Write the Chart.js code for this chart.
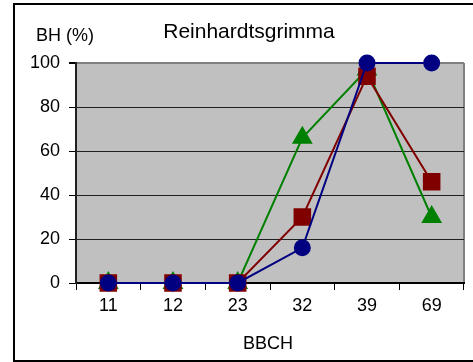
<!DOCTYPE html>
<html>
<head>
<meta charset="utf-8">
<script src="https://cdn.jsdelivr.net/npm/chart.js@4/dist/chart.umd.min.js"></script>
<style>
  body { margin: 0; background: #fff; }
  #wrap { position: relative; width: 473px; height: 362px; overflow: hidden; }
  #frame {
    position: absolute; left: 13px; top: 3px; width: 480px; height: 355px;
    border-left: 2px solid #000; border-top: 2px solid #000; border-bottom: 2px solid #000;
  }
  canvas { position: absolute; left: 0; top: 0; }
</style>
</head>
<body>
<div id="wrap">
  <div id="frame"></div>
  <canvas id="chart" width="473" height="362"></canvas>
</div>
<script>
const chartTitle = 'Reinhardtsgrimma';
const yTitle = 'BH (%)';
const xTitle = 'BBCH';

const bbchStages = ['11', '12', '23', '32', '39', '69'];
const seriesGreen = [0, 0, 0, 66, 97, 30];
const seriesRed = [0, 0, 0, 30, 94, 46];
const seriesBlue = [0, 0, 0, 16, 100, 100];

const font = 'Arial, "Liberation Sans", sans-serif';

// plot background, right border and the free-standing texts
const decor = {
  id: 'decor',
  beforeDraw: function(chart) {
    const a = chart.chartArea;
    const ctx = chart.ctx;
    ctx.save();
    ctx.fillStyle = '#c0c0c0';
    ctx.fillRect(a.left, a.top, a.right - a.left, a.bottom - a.top);
    ctx.strokeStyle = '#808080';
    ctx.lineWidth = 2;
    ctx.beginPath();
    ctx.moveTo(a.right, a.top);
    ctx.lineTo(a.right, a.bottom);
    ctx.stroke();
    ctx.restore();
  },
  afterDraw: function(chart) {
    const ctx = chart.ctx;
    ctx.save();
    ctx.fillStyle = '#000';
    ctx.textBaseline = 'alphabetic';
    ctx.font = '21px ' + font;
    ctx.textAlign = 'center';
    ctx.fillText(chartTitle, 249, 38);
    ctx.font = '18px ' + font;
    ctx.textAlign = 'left';
    ctx.fillText(yTitle, 36, 41);
    ctx.textAlign = 'center';
    ctx.fillText(xTitle, 268, 349);
    ctx.restore();
  }
};

new Chart(document.getElementById('chart'), {
  type: 'line',
  data: {
    labels: bbchStages,
    datasets: [
      {
        data: seriesBlue,
        borderColor: '#000080',
        backgroundColor: '#000080',
        pointStyle: 'circle',
        pointRadius: 7.5,
        borderWidth: 2
      },
      {
        data: seriesRed,
        borderColor: '#800000',
        backgroundColor: '#800000',
        pointStyle: 'rect',
        pointRadius: 11,
        borderWidth: 2
      },
      {
        data: seriesGreen,
        borderColor: '#008000',
        backgroundColor: '#008000',
        pointStyle: 'triangle',
        pointRadius: 10,
        borderWidth: 2
      }
    ]
  },
  options: {
    responsive: false,
    animation: false,
    events: [],
    layout: {
      autoPadding: false,
      padding: { top: 63, right: 9, left: 0, bottom: 0 }
    },
    datasets: {
      line: { clip: false }
    },
    elements: {
      line: { tension: 0 },
      point: { borderWidth: 1, hoverRadius: 0 }
    },
    plugins: {
      legend: { display: false },
      title: { display: false },
      tooltip: { enabled: false }
    },
    scales: {
      x: {
        offset: true,
        afterFit: function(axis) { axis.height = 79; },
        grid: {
          offset: true,
          drawOnChartArea: false,
          tickLength: 7,
          tickColor: '#000',
          tickWidth: 1
        },
        border: { color: '#000', width: 2 },
        ticks: {
          color: '#000',
          padding: 5,
          maxRotation: 0,
          font: { family: font, size: 18 }
        }
      },
      y: {
        min: 0,
        max: 100,
        afterFit: function(axis) { axis.width = 76; },
        grid: {
          color: function(ctx) {
            return ctx.tick && ctx.tick.value === 100 ? '#808080' : '#202020';
          },
          lineWidth: function(ctx) {
            return ctx.tick && ctx.tick.value === 100 ? 2 : 1;
          },
          tickLength: 7,
          tickColor: '#000'
        },
        border: { color: '#202020', width: 2 },
        ticks: {
          stepSize: 20,
          color: '#000',
          padding: 9,
          font: { family: font, size: 18 }
        }
      }
    }
  },
  plugins: [decor]
});
</script>
</body>
</html>
